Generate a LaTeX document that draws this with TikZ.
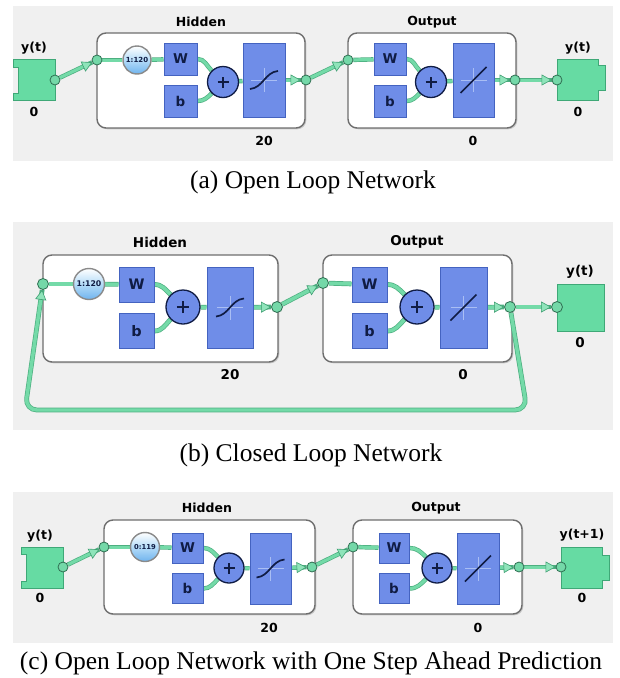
\documentclass[tikz,border=0pt]{standalone}
\usepackage{fontspec}
\setmainfont{Liberation Serif}
\setsansfont{DejaVu Sans}
\usetikzlibrary{arrows.meta,shadows}
\pgfdeclarelayer{bg}\pgfdeclarelayer{frame}\pgfdeclarelayer{wire}
\pgfsetlayers{bg,frame,wire,main}
\definecolor{bggray}{HTML}{F0F0F0}
\definecolor{framec}{HTML}{6E6E6E}
\definecolor{gfill}{HTML}{66DBA3}
\definecolor{gdraw}{HTML}{3FA877}
\definecolor{jfill}{HTML}{74D8A8}
\definecolor{jdraw}{HTML}{2F6F52}
\definecolor{wirec}{HTML}{74DAA8}
\definecolor{wireedge}{HTML}{4DAF80}
\definecolor{tipfill}{HTML}{8FE4BA}
\definecolor{tipdraw}{HTML}{3F9F72}
\definecolor{bfill}{HTML}{6F8DE8}
\definecolor{bdraw}{HTML}{4463C0}
\definecolor{navy}{HTML}{101C44}
\definecolor{crossc}{HTML}{A9BEF4}
\definecolor{clkblue}{HTML}{6FB3EE}
\definecolor{clkmid}{HTML}{B5DCF8}
\definecolor{clkdraw}{HTML}{8A8A8A}
\begin{document}
\begin{tikzpicture}[x=1pt,y=1pt,
  lbl/.style={font=\sffamily\bfseries\fontsize{12.5}{12.5}\selectfont, inner sep=0pt},
  lblb/.style={font=\sffamily\bfseries\fontsize{13.5}{13.5}\selectfont, inner sep=0pt},
  captxt/.style={font=\fontsize{25.5}{25.5}\selectfont, inner sep=0pt, anchor=base},
  layerbox/.style={draw=framec, line width=1.4pt, fill=white, rounded corners=9pt, inner sep=0pt,
     drop shadow={shadow xshift=1.3pt, shadow yshift=-1.3pt, opacity=0.35}},
  jn/.style={circle, minimum size=10pt, inner sep=0pt, fill=jfill, draw=jdraw, line width=0.8pt},
  jnb/.style={jn, minimum size=11pt},
  wbox/.style={rectangle, fill=bfill, draw=bdraw, line width=1pt, inner sep=0pt,
     minimum width=33pt, minimum height=32pt, font=\sffamily\bfseries\fontsize{13.5}{13.5}\selectfont, text=navy},
  plusn/.style={circle, fill=bfill, draw=navy, line width=1.3pt, minimum size=31pt, inner sep=0pt,
     path picture={\draw[navy, line width=1.4pt] (path picture bounding box.center) ++(-#1,0) -- ++(2*#1,0)
        (path picture bounding box.center) ++(0,-#1) -- ++(0,2*#1);}},
  plusn/.default=5.5,
  sigbox/.style={rectangle, fill=bfill, draw=bdraw, line width=1pt, inner sep=0pt,
     path picture={\begin{scope}[shift={(path picture bounding box.center)}, scale=#1]
        \draw[crossc, line width=0.9pt] (-13,0) -- (13,0) (0,-12) -- (0,12);
        \draw[navy, line width=1.7pt] (-14,-9) to[out=5,in=185] (14,9);
        \end{scope}}},
  sigbox/.default=1,
  linbox/.style={rectangle, fill=bfill, draw=bdraw, line width=1pt, inner sep=0pt,
     path picture={\begin{scope}[shift={(path picture bounding box.center)}, scale=#1]
        \draw[crossc, line width=0.9pt] (-13,0) -- (13,0) (0,-12) -- (0,12);
        \draw[navy, line width=1.7pt] (-13,-13) -- (13,13);
        \end{scope}}},
  linbox/.default=1,
  clk/.style={circle, minimum size=28pt, inner sep=0pt, draw=clkdraw, line width=1.4pt,
     top color=white, bottom color=clkblue, middle color=clkmid, font=\sffamily\bfseries\fontsize{7}{7}\selectfont, text=navy},
  conn/.style={draw=wirec, line width=3pt, preaction={draw=wireedge, line width=4.4pt, -}},
  connb/.style={draw=wirec, line width=3.4pt, preaction={draw=wireedge, line width=4.8pt, -}},
  arr/.style={-{Triangle[length=10pt, width=11pt, line width=0.6pt, color=tipdraw, fill=tipfill]}},
  gbox/.style={fill=gfill, draw=gdraw, line width=0.9pt}
]
\useasboundingbox (0,0) rectangle (620,-678);
\begin{pgfonlayer}{bg}
\fill[white] (0,0) rectangle (620,-678);
\end{pgfonlayer}

% ================= panel (a) =================
\begin{pgfonlayer}{bg}
\fill[bggray] (13,-6) rectangle (613,-161);
\end{pgfonlayer}
\begin{pgfonlayer}{frame}
\node[layerbox, minimum width=208pt, minimum height=95pt] (a_hid) at (201,-80.5) {};
\node[layerbox, minimum width=168pt, minimum height=95pt] (a_out) at (432,-80.5) {};
\end{pgfonlayer}
\node[lbl] (a_hidl) at (201,-22) {Hidden};
\node[lbl] (a_outl) at (432,-22) {Output};
\filldraw[gbox] (13,-59) -- (55,-59) -- (55,-100) -- (13,-100) -- (13,-93) -- (18,-93) -- (18,-67) -- (13,-67) -- cycle;
\filldraw[gbox] (557,-59) -- (598,-59) -- (598,-65) -- (605,-65) -- (605,-90) -- (598,-90) -- (598,-100) -- (557,-100) -- cycle;
\node[lbl] (a_yl) at (34,-48) {y(t)};
\node[lbl] (a_y0) at (34,-112) {0};
\node[lbl] (a_yl2) at (578,-48) {y(t)};
\node[lbl] (a_y02) at (578,-112) {0};
\node[lbl] (a_n20) at (264,-141) {20};
\node[lbl] (a_n0) at (473,-141) {0};
\node[jn] (a_c1) at (55,-80) {};
\node[jn] (a_hin) at (97,-60) {};
\node[clk] (a_clk) at (137,-60) {1:120};
\node[wbox] (a_W) at (180.5,-59) {W};
\node[wbox] (a_b) at (180.5,-101) {b};
\node[plusn] (a_plus) at (223,-82) {};
\node[sigbox, minimum width=42pt, minimum height=74pt] (a_tf) at (264,-80) {};
\node[jn] (a_hout) at (306,-80) {};
\node[jn] (a_oin) at (348,-60) {};
\node[wbox, minimum width=32pt] (a_W2) at (390,-59) {W};
\node[wbox, minimum width=32pt] (a_b2) at (390,-101) {b};
\node[plusn] (a_plus2) at (431,-82) {};
\node[linbox, minimum width=41pt, minimum height=74pt] (a_tf2) at (473.5,-80) {};
\node[jn] (a_oout) at (515,-80) {};
\node[jn] (a_yin) at (557,-80) {};
\node[captxt] (a_cap) at (313,-188) {(a) Open Loop Network};
\begin{pgfonlayer}{wire}
\draw[conn,arr] (a_c1) -- (a_hin);
\draw[conn] (a_hin) -- (a_clk);
\draw[conn] (a_clk) -- (a_W);
\draw[conn] (a_W.east) to[out=0,in=135] (a_plus);
\draw[conn] (a_b.east) to[out=0,in=225] (a_plus);
\draw[conn] (a_plus) -- (a_tf);
\draw[conn,arr] (a_tf) -- (a_hout);
\draw[conn,arr] (a_hout) -- (a_oin);
\draw[conn] (a_oin) -- (a_W2);
\draw[conn] (a_W2.east) to[out=0,in=135] (a_plus2);
\draw[conn] (a_b2.east) to[out=0,in=225] (a_plus2);
\draw[conn] (a_plus2) -- (a_tf2);
\draw[conn,arr] (a_tf2) -- (a_oout);
\draw[conn,arr] (a_oout) -- (a_yin);
\end{pgfonlayer}

% ================= panel (b) =================
\begin{pgfonlayer}{bg}
\fill[bggray] (13,-222) rectangle (613,-430);
\end{pgfonlayer}
\begin{pgfonlayer}{frame}
\node[layerbox, minimum width=235pt, minimum height=107pt] (b_hid) at (160.5,-308.5) {};
\node[layerbox, minimum width=189pt, minimum height=107pt] (b_out) at (417.5,-308.5) {};
\end{pgfonlayer}
\node[lblb] (b_hidl) at (160,-242) {Hidden};
\node[lblb] (b_outl) at (417,-242) {Output};
\node[rectangle, gbox, minimum width=47pt, minimum height=47pt, inner sep=0pt] (b_ybox) at (580.5,-307.5) {};
\node[lblb] (b_yl) at (580,-272) {y(t)};
\node[lblb] (b_y0) at (580,-343) {0};
\node[lblb] (b_n20) at (230,-375) {20};
\node[lblb] (b_n0) at (463,-375) {0};
\node[jnb] (b_hin) at (43,-284) {};
\node[clk, minimum size=31pt, font=\sffamily\bfseries\fontsize{7.8}{7.8}\selectfont] (b_clk) at (89,-284) {1:120};
\node[wbox, minimum width=35pt, minimum height=35pt, font=\sffamily\bfseries\fontsize{14.5}{14.5}\selectfont] (b_W) at (136.5,-284.5) {W};
\node[wbox, minimum width=35pt, minimum height=35pt, font=\sffamily\bfseries\fontsize{14.5}{14.5}\selectfont] (b_b) at (136.5,-331) {b};
\node[plusn=6.2, minimum size=34pt] (b_plus) at (183,-307) {};
\node[sigbox=1.12, minimum width=46pt, minimum height=81pt] (b_tf) at (230,-307.5) {};
\node[jnb] (b_hout) at (277,-307) {};
\node[jnb] (b_oin) at (323,-283) {};
\node[wbox, minimum width=35pt, minimum height=35pt, font=\sffamily\bfseries\fontsize{14.5}{14.5}\selectfont] (b_W2) at (369.5,-284.5) {W};
\node[wbox, minimum width=35pt, minimum height=35pt, font=\sffamily\bfseries\fontsize{14.5}{14.5}\selectfont] (b_b2) at (369.5,-331) {b};
\node[plusn=6.2, minimum size=34pt] (b_plus2) at (417,-307) {};
\node[linbox=1.12, minimum width=47pt, minimum height=81pt] (b_tf2) at (463.5,-307.5) {};
\node[jnb] (b_oout) at (510,-307) {};
\node[jnb] (b_yin) at (557,-307) {};
\node[captxt] (b_cap) at (311,-461) {(b) Closed Loop Network};
\begin{pgfonlayer}{wire}
\draw[connb] (b_hin) -- (b_clk);
\draw[connb] (b_clk) -- (b_W);
\draw[connb] (b_W.east) to[out=0,in=135] (b_plus);
\draw[connb] (b_b.east) to[out=0,in=225] (b_plus);
\draw[connb] (b_plus) -- (b_tf);
\draw[connb,arr] (b_tf) -- (b_hout);
\draw[connb,arr] (b_hout) -- (b_oin);
\draw[connb] (b_oin) -- (b_W2);
\draw[connb] (b_W2.east) to[out=0,in=135] (b_plus2);
\draw[connb] (b_b2.east) to[out=0,in=225] (b_plus2);
\draw[connb] (b_plus2) -- (b_tf2);
\draw[connb,arr] (b_tf2) -- (b_oout);
\draw[connb,arr] (b_oout) -- (b_yin);
\draw[connb,arr,rounded corners=12pt] (b_oout) -- (527,-410) -- (25,-410) -- (b_hin);
\end{pgfonlayer}

% ================= panel (c) =================
\begin{pgfonlayer}{bg}
\fill[bggray] (13,-492) rectangle (613,-643);
\end{pgfonlayer}
\begin{pgfonlayer}{frame}
\node[layerbox, minimum width=211pt, minimum height=94pt] (c_hid) at (209.5,-567) {};
\node[layerbox, minimum width=169pt, minimum height=94pt] (c_out) at (437.5,-567) {};
\end{pgfonlayer}
\node[lbl] (c_hidl) at (207,-508) {Hidden};
\node[lbl] (c_outl) at (436,-508) {Output};
\filldraw[gbox] (21,-547) -- (63,-547) -- (63,-588) -- (21,-588) -- (21,-581) -- (26,-581) -- (26,-554) -- (21,-554) -- cycle;
\filldraw[gbox] (561,-547) -- (602,-547) -- (602,-555) -- (609,-555) -- (609,-580) -- (602,-580) -- (602,-588) -- (561,-588) -- cycle;
\node[lbl] (c_yl) at (40,-536) {y(t)};
\node[lbl] (c_y0) at (40,-598) {0};
\node[lbl] (c_yl2) at (582,-535) {y(t+1)};
\node[lbl] (c_y02) at (582,-598) {0};
\node[lbl] (c_n20) at (269,-628) {20};
\node[lbl] (c_n0) at (478,-628) {0};
\node[jn] (c_c1) at (63,-567) {};
\node[jn] (c_hin) at (104,-547) {};
\node[clk, minimum size=29pt, font=\sffamily\bfseries\fontsize{6.8}{6.8}\selectfont] (c_clk) at (145,-547) {0:119};
\node[wbox, minimum width=31pt, minimum height=30pt] (c_W) at (187.5,-548) {W};
\node[wbox, minimum width=31pt, minimum height=30pt] (c_b) at (187.5,-588.5) {b};
\node[plusn, minimum size=30pt] (c_plus) at (229,-568) {};
\node[sigbox, minimum width=41pt, minimum height=71pt] (c_tf) at (270.5,-568.5) {};
\node[jn] (c_hout) at (312,-567) {};
\node[jn] (c_oin) at (353,-547) {};
\node[wbox, minimum width=30pt, minimum height=30pt] (c_W2) at (394,-548) {W};
\node[wbox, minimum width=30pt, minimum height=30pt] (c_b2) at (394,-588.5) {b};
\node[plusn, minimum size=30pt] (c_plus2) at (437,-568) {};
\node[linbox, minimum width=42pt, minimum height=71pt] (c_tf2) at (478,-568.5) {};
\node[jn] (c_oout) at (519,-567) {};
\node[jn] (c_yin) at (561,-567) {};
\node[captxt] (c_cap) at (311,-669) {(c) Open Loop Network with One Step Ahead Prediction};
\begin{pgfonlayer}{wire}
\draw[conn,arr] (c_c1) -- (c_hin);
\draw[conn] (c_hin) -- (c_clk);
\draw[conn] (c_clk) -- (c_W);
\draw[conn] (c_W.east) to[out=0,in=135] (c_plus);
\draw[conn] (c_b.east) to[out=0,in=225] (c_plus);
\draw[conn] (c_plus) -- (c_tf);
\draw[conn,arr] (c_tf) -- (c_hout);
\draw[conn,arr] (c_hout) -- (c_oin);
\draw[conn] (c_oin) -- (c_W2);
\draw[conn] (c_W2.east) to[out=0,in=135] (c_plus2);
\draw[conn] (c_b2.east) to[out=0,in=225] (c_plus2);
\draw[conn] (c_plus2) -- (c_tf2);
\draw[conn,arr] (c_tf2) -- (c_oout);
\draw[conn,arr] (c_oout) -- (c_yin);
\end{pgfonlayer}
\end{tikzpicture}
\end{document}
